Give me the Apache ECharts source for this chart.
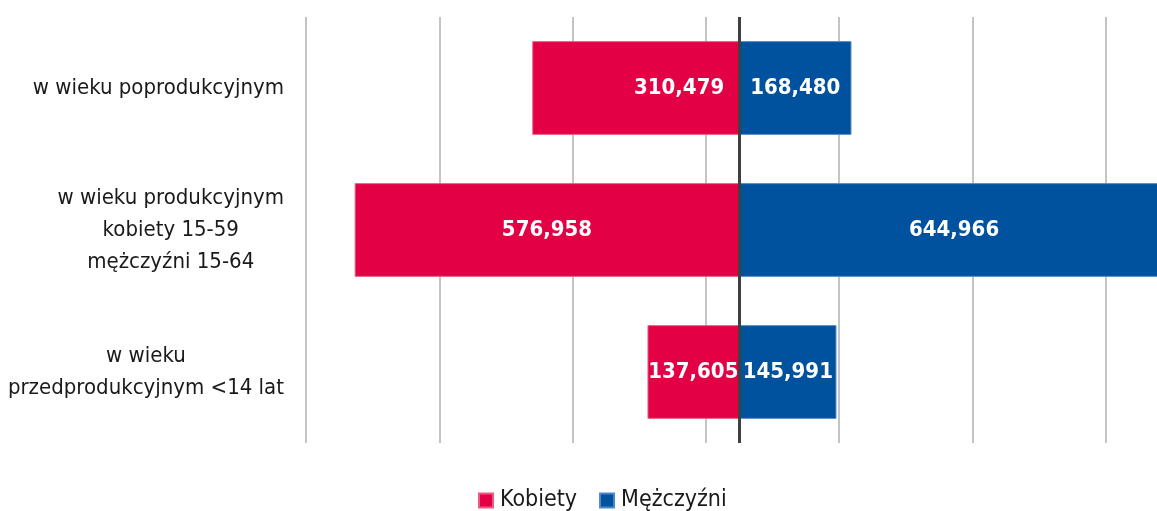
<!DOCTYPE html>
<html>
<head>
<meta charset="utf-8">
<script src="https://cdn.jsdelivr.net/npm/echarts@6/dist/echarts.min.js"></script>
<style>
  html, body { margin: 0; padding: 0; background: #ffffff; }
  #chart { width: 1157px; height: 511px; }
</style>
</head>
<body>
<div id="chart"></div>
<script>
const categories = [
  'w wieku poprodukcyjnym',
  'w wieku produkcyjnym\nkobiety 15-59\nmężczyźni 15-64',
  'w wieku\nprzedprodukcyjnym <14 lat'
];
const kobiety = [310479, 576958, 137605];
const mezczyzni = [168480, 644966, 145991];
const seriesNames = ['Kobiety', 'Mężczyźni'];

const FONT = "'Liberation Sans Narrow', 'DejaVu Sans Condensed', sans-serif";
const RED = '#E30045';
const BLUE = '#00519E';

const fmt = v => Math.abs(v).toLocaleString('en-US');

const chart = echarts.init(document.getElementById('chart'), null, { renderer: 'canvas' });

chart.setOption({
  animation: false,
  backgroundColor: '#ffffff',
  textStyle: { fontFamily: FONT },
  grid: { left: 306, right: -82, top: 17, bottom: 68, containLabel: false, outerBoundsMode: 'none' },
  legend: {
    data: seriesNames,
    left: 473,
    top: 484,
    icon: 'rect',
    itemWidth: 14,
    itemHeight: 14,
    itemGap: 22,
    textStyle: { fontFamily: FONT, fontSize: 23, color: '#1a1a1a', padding: [0, 0, 0, 2] }
  },
  xAxis: [
    {
      type: 'value',
      min: -650000,
      max: 750000,
      axisLine: { show: false },
      axisTick: { show: false },
      axisLabel: { show: false },
      splitLine: { show: false }
    },
    {
      type: 'value',
      min: 0,
      max: 1400000,
      interval: 200000,
      position: 'bottom',
      axisLine: { show: false },
      axisTick: { show: false },
      axisLabel: { show: false },
      splitLine: { show: true, lineStyle: { color: '#c4c4c4', width: 2 } }
    }
  ],
  yAxis: {
    type: 'category',
    data: categories,
    inverse: true,
    axisLine: { show: false },
    axisTick: { show: false },
    splitLine: { show: false },
    axisLabel: {
      margin: 22,
      align: 'right',
      formatter: v => v.split('\n').map(s => '{a|' + s + '}').join('\n'),
      rich: {
        a: { fontFamily: FONT, fontSize: 22, color: '#1a1a1a', align: 'center', lineHeight: 32 }
      }
    }
  },
  series: [
    {
      name: seriesNames[0],
      type: 'bar',
      xAxisIndex: 0,
      barWidth: '66%',
      barGap: '-100%',
      itemStyle: { color: RED, borderColor: '#ec5a80', borderWidth: 1 },
      label: {
        show: true,
        position: 'inside',
        formatter: p => fmt(p.value),
        color: '#ffffff',
        fontFamily: FONT,
        fontWeight: 'bold',
        fontSize: 22
      },
      data: kobiety.map((v, i) => i === 0
        ? { value: -v, label: { position: 'insideRight', distance: 15 } }
        : -v),
      markLine: {
        silent: true,
        symbol: ['none', 'none'],
        label: { show: false },
        lineStyle: { color: '#404040', width: 3, type: 'solid' },
        data: [{ xAxis: 0 }]
      }
    },
    {
      name: seriesNames[1],
      type: 'bar',
      xAxisIndex: 0,
      barWidth: '66%',
      itemStyle: { color: BLUE, borderColor: '#4f86c6', borderWidth: 1 },
      label: {
        show: true,
        position: 'inside',
        formatter: p => fmt(p.value),
        color: '#ffffff',
        fontFamily: FONT,
        fontWeight: 'bold',
        fontSize: 22
      },
      data: mezczyzni
    }
  ]
});
</script>
</body>
</html>
